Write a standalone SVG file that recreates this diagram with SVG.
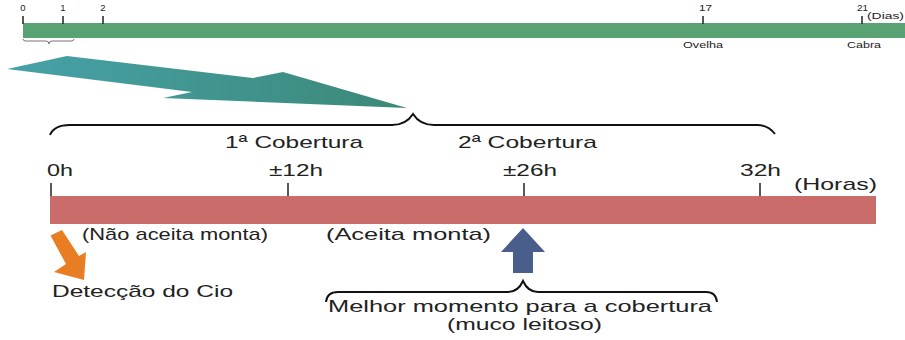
<svg xmlns="http://www.w3.org/2000/svg" width="905" height="340" viewBox="0 0 905 340">
<defs>
<linearGradient id="teal" x1="0" y1="0" x2="1" y2="0">
<stop offset="0" stop-color="#46a2a8"/>
<stop offset="1" stop-color="#3c8878"/>
</linearGradient>
<style>
.t{font-family:"Liberation Sans",Arial,sans-serif;fill:#222;}
.s{font-size:9.5px;}
.m{font-size:17px;}
.tick{stroke:#222;stroke-width:1.5;fill:none;}
.brace{stroke:#111;stroke-width:2;fill:none;}
</style>
</defs>
<rect width="905" height="340" fill="#fff"/>
<g id="days-bar">
<rect x="23" y="23" width="882" height="15" fill="#59a274"/>
<path class="tick" d="M23,16V24M63,16V24M103,16V24M703,16V24M862,16V24"/>
<text class="t s" x="23" y="11" text-anchor="middle">0</text>
<text class="t s" x="63" y="11" text-anchor="middle">1</text>
<text class="t s" x="103" y="11" text-anchor="middle">2</text>
<text class="t s" x="699" y="11" textLength="13" lengthAdjust="spacingAndGlyphs">17</text>
<text class="t s" x="857" y="11" textLength="11" lengthAdjust="spacingAndGlyphs">21</text>
<text class="t s" x="867" y="19" textLength="37" lengthAdjust="spacingAndGlyphs">(Dias)</text>
<text class="t s" x="683" y="48" textLength="40" lengthAdjust="spacingAndGlyphs">Ovelha</text>
<text class="t s" x="847" y="48" textLength="34" lengthAdjust="spacingAndGlyphs">Cabra</text>
<path d="M23,39Q23,41 26,41H46Q49,41 49,44Q49,41 52,41H71Q74,41 74,39" stroke="#777" stroke-width="1" fill="none"/>
</g>
<g id="zoom-arrow">
<polygon points="7,69 67,56 253,78 283,72 407,108 163,98 192,92" fill="url(#teal)"/>
</g>
<g id="cobertura-brace">
<path class="brace" d="M50,135Q54,125 70,125H392Q406,125 413,114Q420,125 434,125H757Q768,125 775,134"/>
<text class="t m" x="225" y="148" textLength="138" lengthAdjust="spacingAndGlyphs">1ª Cobertura</text>
<text class="t m" x="458" y="148" textLength="139" lengthAdjust="spacingAndGlyphs">2ª Cobertura</text>
</g>
<g id="hours-bar">
<rect x="50" y="196" width="826" height="28" fill="#c96c6a"/>
<path class="tick" d="M51,183V196M288,183V196M524,183V196M760,183V196"/>
<text class="t m" x="47" y="176" textLength="26" lengthAdjust="spacingAndGlyphs">0h</text>
<text class="t m" x="269" y="176" textLength="54" lengthAdjust="spacingAndGlyphs">±12h</text>
<text class="t m" x="503" y="176" textLength="54" lengthAdjust="spacingAndGlyphs">±26h</text>
<text class="t m" x="740" y="176" textLength="41" lengthAdjust="spacingAndGlyphs">32h</text>
<text class="t m" x="794" y="190" textLength="83" lengthAdjust="spacingAndGlyphs">(Horas)</text>
<text class="t m" x="82" y="240" textLength="186" lengthAdjust="spacingAndGlyphs">(Não aceita monta)</text>
<text class="t m" x="326" y="240" textLength="165" lengthAdjust="spacingAndGlyphs">(Aceita monta)</text>
</g>
<g id="detection">
<polygon points="50.5,235.5 62,230 79,256 86,252 84,280 54,272 66,264" fill="#e87d24"/>
<text class="t m" x="52" y="297" textLength="181" lengthAdjust="spacingAndGlyphs">Detecção do Cio</text>
</g>
<g id="best-moment">
<polygon points="523,228 545,252 533,252 533,273 513,273 513,252 501,252" fill="#4a5e8b"/>
<path class="brace" d="M326,302Q327,292 338,292H508Q518,292 523,281Q528,292 538,292H706Q716,292 717,302" stroke-width="1.6"/>
<text class="t m" x="328" y="312" textLength="384" lengthAdjust="spacingAndGlyphs">Melhor momento para a cobertura</text>
<text class="t m" x="447" y="330" textLength="155" lengthAdjust="spacingAndGlyphs">(muco leitoso)</text>
</g>
</svg>
